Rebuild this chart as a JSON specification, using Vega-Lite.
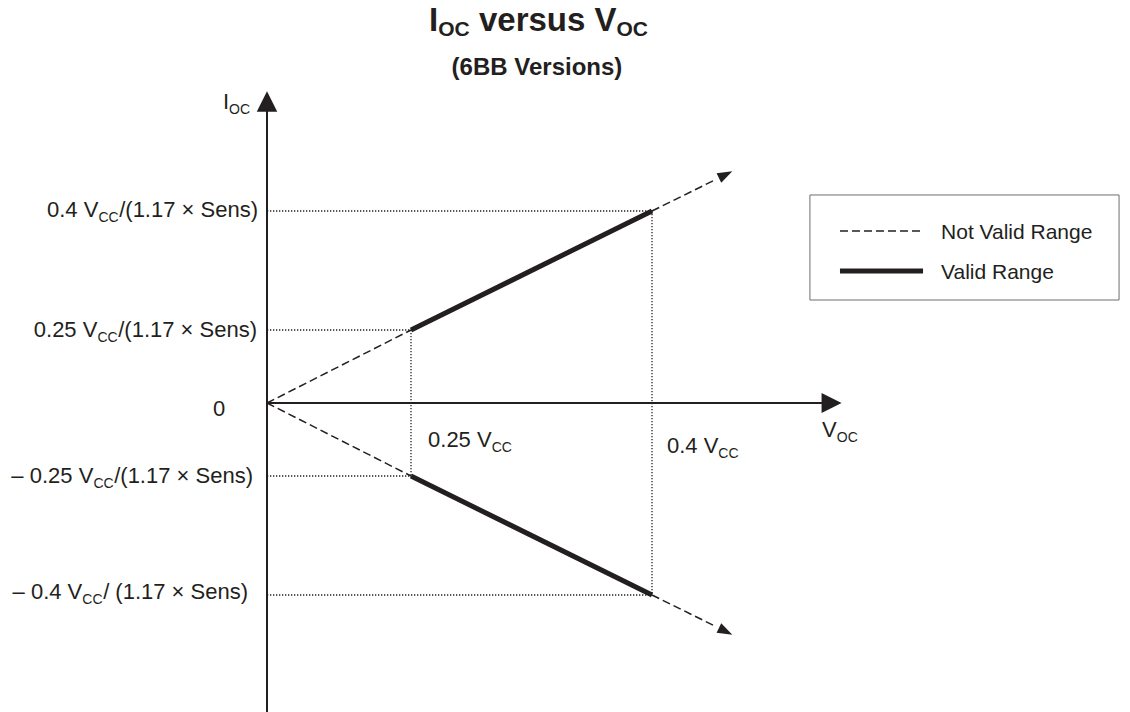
{
  "$schema": "https://vega.github.io/schema/vega-lite/v6.json",
  "width": 1130,
  "height": 712,
  "padding": 0,
  "autosize": {"type": "none"},
  "background": "white",
  "config": {"view": {"stroke": null}, "font": "Liberation Sans"},
  "datasets": {
    "guides": [
      {"x": 0, "y": 0.4, "x2": 0.4, "y2": 0.4},
      {"x": 0, "y": 0.25, "x2": 0.25, "y2": 0.25},
      {"x": 0, "y": -0.25, "x2": 0.25, "y2": -0.25},
      {"x": 0, "y": -0.4, "x2": 0.4, "y2": -0.4},
      {"x": 0.25, "y": 0.25, "x2": 0.25, "y2": -0.25},
      {"x": 0.4, "y": 0.4, "x2": 0.4, "y2": -0.4}
    ],
    "axes": [
      {"x": 0, "y": 0, "x2": 0.51, "y2": 0},
      {"x": 0, "y": -0.55, "x2": 0, "y2": 0.535}
    ],
    "ranges": [
      {"range": "Not Valid Range", "x": 0, "y": 0, "x2": 0.25, "y2": 0.25},
      {"range": "Not Valid Range", "x": 0.4, "y": 0.4, "x2": 0.44, "y2": 0.44},
      {"range": "Not Valid Range", "x": 0, "y": 0, "x2": 0.25, "y2": -0.25},
      {"range": "Not Valid Range", "x": 0.4, "y": -0.4, "x2": 0.44, "y2": -0.44},
      {"range": "Not Valid Range", "x": 0.517, "y": 0.3748, "x2": 0.5687, "y2": 0.3748},
      {"range": "Valid Range", "x": 0.25, "y": 0.25, "x2": 0.4, "y2": 0.4},
      {"range": "Valid Range", "x": 0.25, "y": -0.25, "x2": 0.4, "y2": -0.4},
      {"range": "Valid Range", "x": 0.517, "y": 0.3244, "x2": 0.5687, "y2": 0.3244}
    ],
    "arrows": [
      {"kind": "axisX", "x": 0.518, "y": 0},
      {"kind": "axisY", "x": 0, "y": 0.551},
      {"kind": "up", "x": 0.45, "y": 0.45},
      {"kind": "down", "x": 0.45, "y": -0.45}
    ],
    "legendBox": [
      {"x": 0.4983, "x2": 0.6907, "y": 0.4202, "y2": 0.2878}
    ],
    "labels": [
      {"x": -0.3819, "y": 0.3924, "t": "0.4 V"},
      {"x": -0.2566, "y": 0.3924, "t": "/(1.17 × Sens)"},
      {"x": -0.4049, "y": 0.226, "t": "0.25 V"},
      {"x": -0.2583, "y": 0.226, "t": "/(1.17 × Sens)"},
      {"x": -0.0938, "y": -0.0445, "t": "0"},
      {"x": -0.4438, "y": -0.2588, "t": "– 0.25 V"},
      {"x": -0.2653, "y": -0.2588, "t": "/(1.17 × Sens)"},
      {"x": -0.4417, "y": -0.405, "t": "– 0.4 V"},
      {"x": -0.2845, "y": -0.405, "t": "/ (1.17 × Sens)"},
      {"x": 0.2606, "y": -0.1507, "t": "0.25 V"},
      {"x": 0.4093, "y": -0.1712, "t": "0.4 V"},
      {"x": 0.5058, "y": -0.1164, "t": "V"},
      {"x": -0.0764, "y": 0.5286, "t": "I"}
    ],
    "subs": [
      {"x": -0.2927, "y": 0.3861, "t": "CC"},
      {"x": -0.2944, "y": 0.2089, "t": "CC"},
      {"x": -0.3014, "y": -0.2651, "t": "CC"},
      {"x": -0.3207, "y": -0.4113, "t": "CC"},
      {"x": 0.3002, "y": -0.1678, "t": "CC"},
      {"x": 0.4413, "y": -0.1884, "t": "CC"},
      {"x": 0.515, "y": -0.1336, "t": "OC"},
      {"x": -0.0658, "y": 0.5223, "t": "OC"}
    ],
    "legendText": [
      {"x": 0.5799, "y": 0.3647, "t": "Not Valid Range"},
      {"x": 0.5799, "y": 0.3143, "t": "Valid Range"}
    ],
    "title": [
      {"x": 0.2612, "y": 0.6269, "t": "I"},
      {"x": 0.2923, "y": 0.6269, "t": "versus V"}
    ],
    "titleSub": [
      {"x": 0.2669, "y": 0.6206, "t": "OC"},
      {"x": 0.3779, "y": 0.6206, "t": "OC"}
    ],
    "subtitle": [
      {"x": 0.3284, "y": 0.5714, "t": "(6BB Versions)"}
    ]
  },
  "encoding": {
    "x": {"field": "x", "type": "quantitative", "axis": null,
          "scale": {"domain": [0, 0.25, 0.4], "range": [267, 411, 652], "nice": false, "zero": false}},
    "y": {"field": "y", "type": "quantitative", "axis": null,
          "scale": {"domain": [-0.4, -0.25, 0, 0.25, 0.4], "range": [595, 476, 403, 330, 211], "nice": false, "zero": false}}
  },
  "layer": [
    {
      "data": {"name": "legendBox"},
      "mark": {"type": "rect", "fill": "white", "stroke": "#6d6e71", "strokeWidth": 1},
      "encoding": {"x2": {"field": "x2"}, "y2": {"field": "y2"}}
    },
    {
      "data": {"name": "guides"},
      "mark": {"type": "rule", "color": "#231f20", "strokeWidth": 1.3, "strokeDash": [1.3, 1.7]},
      "encoding": {"x2": {"field": "x2"}, "y2": {"field": "y2"}}
    },
    {
      "data": {"name": "axes"},
      "mark": {"type": "rule", "color": "#231f20", "strokeWidth": 2},
      "encoding": {"x2": {"field": "x2"}, "y2": {"field": "y2"}}
    },
    {
      "data": {"name": "ranges"},
      "transform": [{"filter": "datum.range === 'Not Valid Range'"}],
      "mark": {"type": "rule", "color": "#231f20", "strokeWidth": 1.5, "strokeDash": [8, 4]},
      "encoding": {"x2": {"field": "x2"}, "y2": {"field": "y2"}}
    },
    {
      "data": {"name": "ranges"},
      "transform": [{"filter": "datum.range === 'Valid Range'"}],
      "mark": {"type": "rule", "color": "#231f20", "strokeWidth": 5},
      "encoding": {"x2": {"field": "x2"}, "y2": {"field": "y2"}}
    },
    {
      "data": {"name": "arrows"},
      "transform": [{"filter": "datum.kind === 'axisX'"}],
      "mark": {"type": "point", "shape": "M0,0L-2,-1L-2,1Z", "size": 400, "filled": true, "opacity": 1, "color": "#231f20", "strokeWidth": 0},
      "encoding": {}
    },
    {
      "data": {"name": "arrows"},
      "transform": [{"filter": "datum.kind === 'axisY'"}],
      "mark": {"type": "point", "shape": "M0,0L-2,-1L-2,1Z", "size": 420, "angle": -90, "filled": true, "opacity": 1, "color": "#231f20", "strokeWidth": 0},
      "encoding": {}
    },
    {
      "data": {"name": "arrows"},
      "transform": [{"filter": "datum.kind === 'up'"}],
      "mark": {"type": "point", "shape": "M0,0L-2,-0.7L-2,0.7Z", "size": 225, "angle": -26.5, "filled": true, "opacity": 1, "color": "#231f20", "strokeWidth": 0},
      "encoding": {}
    },
    {
      "data": {"name": "arrows"},
      "transform": [{"filter": "datum.kind === 'down'"}],
      "mark": {"type": "point", "shape": "M0,0L-2,-0.7L-2,0.7Z", "size": 225, "angle": 26.5, "filled": true, "opacity": 1, "color": "#231f20", "strokeWidth": 0},
      "encoding": {}
    },
    {
      "data": {"name": "labels"},
      "mark": {"type": "text", "align": "left", "baseline": "alphabetic", "fontSize": 22, "color": "#231f20"},
      "encoding": {"text": {"field": "t"}}
    },
    {
      "data": {"name": "subs"},
      "mark": {"type": "text", "align": "left", "baseline": "alphabetic", "fontSize": 14, "color": "#231f20"},
      "encoding": {"text": {"field": "t"}}
    },
    {
      "data": {"name": "legendText"},
      "mark": {"type": "text", "align": "left", "baseline": "alphabetic", "fontSize": 21, "color": "#231f20"},
      "encoding": {"text": {"field": "t"}}
    },
    {
      "data": {"name": "title"},
      "mark": {"type": "text", "align": "left", "baseline": "alphabetic", "fontSize": 33, "fontWeight": "bold", "color": "#231f20"},
      "encoding": {"text": {"field": "t"}}
    },
    {
      "data": {"name": "titleSub"},
      "mark": {"type": "text", "align": "left", "baseline": "alphabetic", "fontSize": 21, "fontWeight": "bold", "color": "#231f20"},
      "encoding": {"text": {"field": "t"}}
    },
    {
      "data": {"name": "subtitle"},
      "mark": {"type": "text", "align": "center", "baseline": "alphabetic", "fontSize": 24, "fontWeight": "bold", "color": "#231f20"},
      "encoding": {"text": {"field": "t"}}
    }
  ]
}
